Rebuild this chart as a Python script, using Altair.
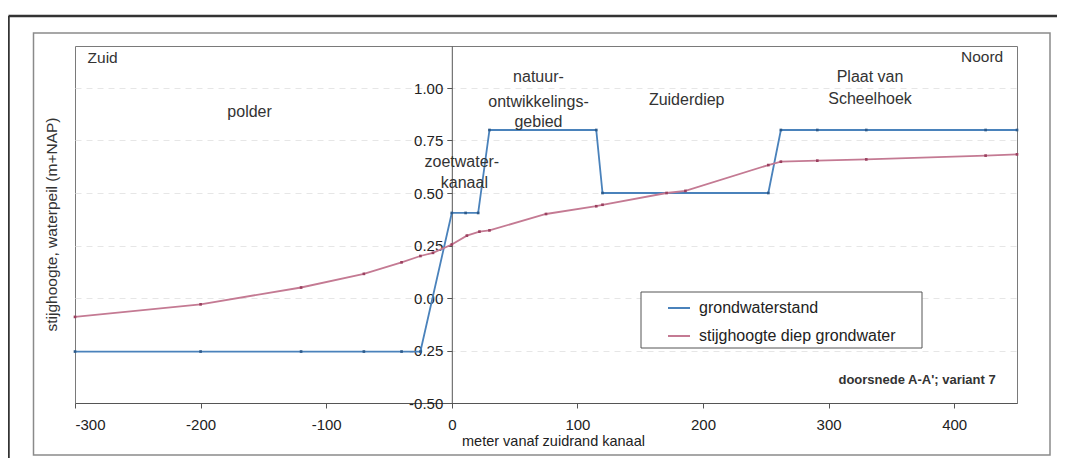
import altair as alt
import pandas as pd

# ---- data ----
gw_x = [-300, -200, -120, -70, -40, -25, 0, 11, 21, 30, 115, 120, 252, 262, 291, 330, 425, 450]
gw_y = [-0.255, -0.255, -0.255, -0.255, -0.255, -0.255, 0.405, 0.405, 0.405, 0.80, 0.80, 0.50, 0.50, 0.80, 0.80, 0.80, 0.80, 0.80]

sd_x = [-300, -200, -120, -70, -40, -25, -15, 0, 12, 22, 30, 75, 115, 120, 171, 186, 252, 262, 291, 330, 425, 450]
sd_y = [-0.09, -0.03, 0.05, 0.115, 0.17, 0.20, 0.215, 0.255, 0.297, 0.316, 0.322, 0.40, 0.437, 0.444, 0.50, 0.51, 0.633, 0.649, 0.654, 0.66, 0.678, 0.684]

series_names = ["grondwaterstand", "stijghoogte diep grondwater"]
line_colors = ["#4a82bb", "#c47a93"]
marker_colors = ["#2c5a8a", "#9a3f5e"]

x_ticks = [-300, -200, -100, 0, 100, 200, 300, 400]
y_ticks = [-0.5, -0.25, 0.0, 0.25, 0.5, 0.75, 1.0]

center_labels = ["polder", "natuur-", "ontwikkelings-", "gebied", "Zuiderdiep", "Plaat van", "Scheelhoek", "zoetwater-", "kanaal"]
center_x = [-161, 69, 69, 69, 187, 333, 333, 8, 10]
center_y = [0.886, 1.052, 0.935, 0.84, 0.943, 1.054, 0.948, 0.648, 0.548]

x_title = "meter vanaf zuidrand kanaal"
y_title = "stijghoogte, waterpeil (m+NAP)"
note = "doorsnede A-A'; variant 7"

# ---- tables ----
rows = []
for i, (xv, yv) in enumerate(zip(gw_x, gw_y)):
    rows.append({"x": xv, "y": yv, "serie": series_names[0], "o": i})
for i, (xv, yv) in enumerate(zip(sd_x, sd_y)):
    rows.append({"x": xv, "y": yv, "serie": series_names[1], "o": i})
df = pd.DataFrame(rows)

lab_df = pd.DataFrame({"x": center_x, "y": center_y, "t": center_labels})
zuid_df = pd.DataFrame({"x": [-290], "y": [1.141], "t": ["Zuid"]})
noord_df = pd.DataFrame({"x": [439], "y": [1.146], "t": ["Noord"]})
note_df = pd.DataFrame({"x": [433], "y": [-0.39], "t": [note]})
one = pd.DataFrame({"a": [0]})

W, H = 942, 357
XMIN, XMAX = -300, 450
y_axis_offset = -(0 - XMIN) / (XMAX - XMIN) * W
hyphen = "replace(datum.label, '\u2212', '-')"

x_enc = alt.X("x:Q",
              scale=alt.Scale(domain=[XMIN, XMAX], nice=False, zero=False),
              axis=alt.Axis(values=x_ticks, title=None, labelFontSize=15, tickSize=5,
                            labelPadding=9, grid=False, domainColor="#555",
                            tickColor="#555", labelColor="#222", format="d",
                            labelExpr=hyphen))
y_enc = alt.Y("y:Q",
              scale=alt.Scale(domain=[-0.5, 1.2], nice=False, zero=False),
              axis=alt.Axis(values=y_ticks, format=".2f", offset=y_axis_offset, title=None,
                            labelFontSize=15, tickSize=5, labelPadding=4, grid=True,
                            gridColor="#e6e6e6", gridDash=[6, 5], domainColor="#555",
                            tickColor="#555", labelColor="#222", labelExpr=hyphen))

color_scale = alt.Scale(domain=series_names, range=line_colors)

lines = alt.Chart(df).mark_line(strokeWidth=1.8).encode(
    x=x_enc, y=y_enc, order="o:Q",
    color=alt.Color("serie:N", scale=color_scale,
                    legend=alt.Legend(orient="none", legendX=592, legendY=250, title=None,
                                      labelFontSize=16, symbolType="stroke", symbolSize=484,
                                      symbolStrokeWidth=2, labelOffset=8, rowPadding=8,
                                      padding=0, labelColor="#222", labelLimit=400)),
)
pts = alt.Chart(df).mark_point(filled=True, shape="square", size=7, opacity=1).encode(
    x=x_enc, y=y_enc,
    color=alt.Color("serie:N", scale=alt.Scale(domain=series_names, range=marker_colors), legend=None),
)

labels = alt.Chart(lab_df).mark_text(fontSize=16, color="#333", align="center", baseline="middle").encode(
    x=x_enc, y=y_enc, text="t:N")
zuid = alt.Chart(zuid_df).mark_text(fontSize=15.5, color="#333", align="left", baseline="middle").encode(
    x=x_enc, y=y_enc, text="t:N")
noord = alt.Chart(noord_df).mark_text(fontSize=15.5, color="#333", align="right", baseline="middle").encode(
    x=x_enc, y=y_enc, text="t:N")
note_t = alt.Chart(note_df).mark_text(fontSize=13, fontWeight="bold", color="#333", align="right", baseline="middle").encode(
    x=x_enc, y=y_enc, text="t:N")

# decorations (frames, titles, legend box) in pixel space
outer_v = alt.Chart(one).mark_rule(color="#333", strokeWidth=2.5).encode(
    x=alt.value(-66.5), y=alt.value(-30), y2=alt.value(430))
outer_h = alt.Chart(one).mark_rule(color="#333", strokeWidth=2.5).encode(
    x=alt.value(-66.5), x2=alt.value(1000), y=alt.value(-30))
inner = alt.Chart(one).mark_rect(filled=False, stroke="#8a8a8a", strokeWidth=1.5).encode(
    x=alt.value(-41.5), x2=alt.value(975), y=alt.value(-13), y2=alt.value(409))
legend_box = alt.Chart(one).mark_rect(fill="white", stroke="#555", strokeWidth=1).encode(
    x=alt.value(566), x2=alt.value(847), y=alt.value(246), y2=alt.value(302))
ytitle = alt.Chart(one).mark_text(angle=270, fontSize=15.5, color="#333", align="center", baseline="middle").encode(
    x=alt.value(-23), y=alt.value(178.5), text=alt.value(y_title))
xtitle = alt.Chart(one).mark_text(fontSize=14.5, color="#222", align="left", baseline="middle").encode(
    x=alt.value(387), y=alt.value(396), text=alt.value(x_title))

chart = alt.layer(
    outer_v, outer_h, inner, legend_box, lines, pts, labels, zuid, noord, note_t, ytitle, xtitle
).resolve_scale(color="independent").properties(
    width=W, height=H,
    padding={"left": 67, "top": 38, "right": 40, "bottom": 55},
    autosize=alt.AutoSizeParams(type="none"),
).configure(font="Liberation Sans").configure_view(stroke="#7a7a7a", strokeWidth=1)

chart.save("out.html", embed_options={"renderer": "svg", "actions": False})
